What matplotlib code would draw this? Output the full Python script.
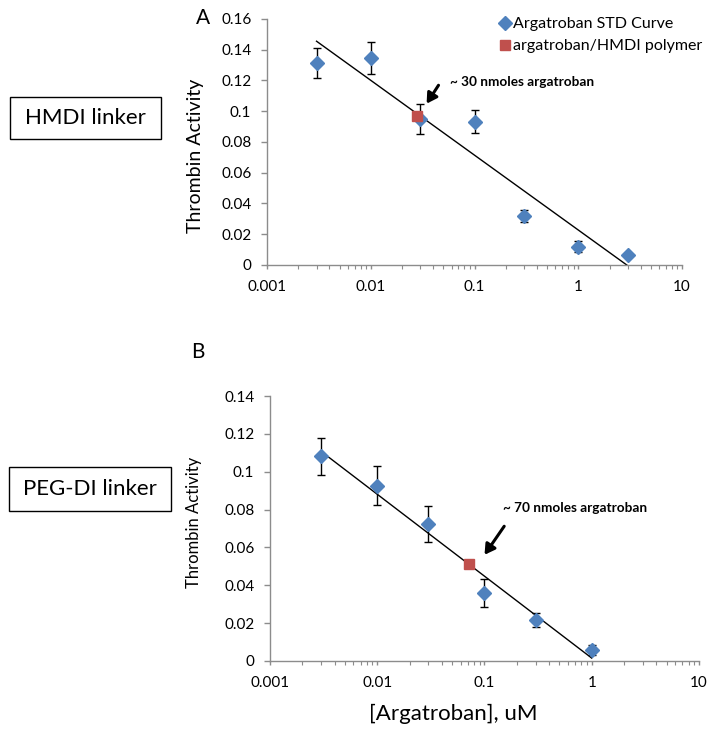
import numpy as np
import matplotlib
matplotlib.use("Agg")
import matplotlib.pyplot as plt
from matplotlib.patches import Rectangle
from matplotlib.lines import Line2D

plt.rcParams["font.family"] = ["Lato", "DejaVu Sans"]

# Panel A: HMDI linker
conc_a = [0.003, 0.01, 0.03, 0.1, 0.3, 1, 3]
act_a = [0.1312, 0.1346, 0.0950, 0.0932, 0.0319, 0.0119, 0.0065]
err_a = [0.0096, 0.0103, 0.0095, 0.0076, 0.0041, 0.0034, 0.0010]
poly_a_x = [0.028]
poly_a_y = [0.097]

# Panel B: PEG-DI linker
conc_b = [0.003, 0.01, 0.03, 0.1, 0.3, 1]
act_b = [0.1081, 0.0926, 0.0725, 0.0360, 0.0218, 0.0058]
err_b = [0.0096, 0.0103, 0.0094, 0.0074, 0.0038, 0.0027]
poly_b_x = [0.072]
poly_b_y = [0.0514]

BLUE = "#4F81BD"
RED = "#C0504D"
SPINE = "#8C8C8C"


def trend(x, y):
    lx = np.log10(x)
    b, a = np.polyfit(lx, y, 1)
    xs = np.array([min(x), max(x)])
    return xs, a + b * np.log10(xs)


def style_axes(ax, ymax, ylab_size):
    ax.set_xscale("log")
    ax.set_xlim(0.001, 10)
    ax.set_ylim(0, ymax)
    ax.set_yticks(np.arange(0, ymax + 1e-9, 0.02))
    ax.set_yticklabels(["0"] + [f"{v:g}" for v in np.arange(0.02, ymax + 1e-9, 0.02)])
    ax.set_xticks([0.001, 0.01, 0.1, 1, 10])
    ax.set_xticklabels(["0.001", "0.01", "0.1", "1", "10"])
    for s in ["top", "right"]:
        ax.spines[s].set_visible(False)
    for s in ["left", "bottom"]:
        ax.spines[s].set_color(SPINE)
        ax.spines[s].set_linewidth(1.0)
    ax.tick_params(axis="both", which="major", labelsize=11, color=SPINE,
                   width=1.0, direction="out")
    ax.tick_params(axis="y", which="major", length=4.3, pad=7)
    ax.tick_params(axis="x", which="major", length=3, pad=8)
    ax.tick_params(axis="x", which="minor", color=SPINE, length=3, width=0.8,
                   direction="out")
    ax.tick_params(axis="y", which="minor", left=False)
    ax.set_ylabel("Thrombin Activity", fontsize=ylab_size, va="center")


fig = plt.figure(figsize=(7.18, 7.35), dpi=100)
ax1 = fig.add_axes([0.3719, 0.6395, 0.578, 0.3347])
ax2 = fig.add_axes([0.376, 0.1007, 0.5975, 0.3605])

# Panel A
tx, ty = trend(conc_a, act_a)
ax1.plot(tx, ty, color="black", lw=1.0, zorder=2)
ax1.errorbar(conc_a, act_a, yerr=err_a, fmt="D", color=BLUE, ms=7,
             ecolor="black", elinewidth=1.0, capsize=3, capthick=1.0, zorder=3)
ax1.plot(poly_a_x, poly_a_y, "s", color=RED, ms=7, zorder=4)
style_axes(ax1, 0.16, 14)
ax1.yaxis.set_label_coords(-0.173, 0.443)
ax1.annotate("", xy=(0.0334, 0.1034), xytext=(0.0465, 0.1184),
             arrowprops=dict(arrowstyle="-|>,head_length=0.6,head_width=0.35",
                             color="black", lw=2.2))
ax1.text(0.058, 0.119, "~ 30 nmoles argatroban", fontsize=9.8,
         fontweight="bold", va="center", ha="left")
handles = [
    Line2D([], [], marker="D", color=BLUE, ls="none", ms=7),
    Line2D([], [], marker="s", color=RED, ls="none", ms=7),
]
ax1.legend(handles, ["Argatroban STD Curve", "argatroban/HMDI polymer"],
           loc="upper left", bbox_to_anchor=(0.558, 1.008), frameon=False,
           fontsize=11.5, handletextpad=0.1, handlelength=0.8,
           labelspacing=0.5, borderpad=0.0, borderaxespad=0.0)

# Panel B
tx, ty = trend(conc_b, act_b)
ax2.plot(tx, ty, color="black", lw=1.0, zorder=2)
ax2.errorbar(conc_b, act_b, yerr=err_b, fmt="D", color=BLUE, ms=7,
             ecolor="black", elinewidth=1.0, capsize=3, capthick=1.0, zorder=3)
ax2.plot(poly_b_x, poly_b_y, "s", color=RED, ms=7, zorder=4)
style_axes(ax2, 0.14, 12)
ax2.yaxis.set_label_coords(-0.177, 0.525)
ax2.set_xlabel("[Argatroban], uM", fontsize=16, va="center")
ax2.xaxis.set_label_coords(0.4266, -0.2)
ax2.annotate("", xy=(0.0968, 0.0549), xytext=(0.158, 0.0724),
             arrowprops=dict(arrowstyle="-|>,head_length=0.6,head_width=0.35",
                             color="black", lw=2.2))
ax2.text(0.148, 0.0808, "~ 70 nmoles argatroban", fontsize=9.8,
         fontweight="bold", va="center", ha="left")

# panel letters
fig.text(203 / 718, 1 - 18 / 735, "A", fontsize=15, ha="center", va="center")
fig.text(198 / 718, 1 - 352 / 735, "B", fontsize=15, ha="center", va="center")

# linker boxes
W, H = 718.0, 735.0
for (x0, y0, x1, y1, label) in [(10, 97, 161, 139, "HMDI linker"),
                                (9, 467, 171, 511, "PEG-DI linker")]:
    fig.patches.append(Rectangle((x0 / W, 1 - y1 / H), (x1 - x0) / W, (y1 - y0) / H,
                                 transform=fig.transFigure, fill=False,
                                 edgecolor="black", lw=1.0))
    fig.text((x0 + x1) / 2 / W, 1 - (y0 + y1) / 2 / H, label, fontsize=16,
             ha="center", va="center")

fig.savefig("out.png", dpi=100)
